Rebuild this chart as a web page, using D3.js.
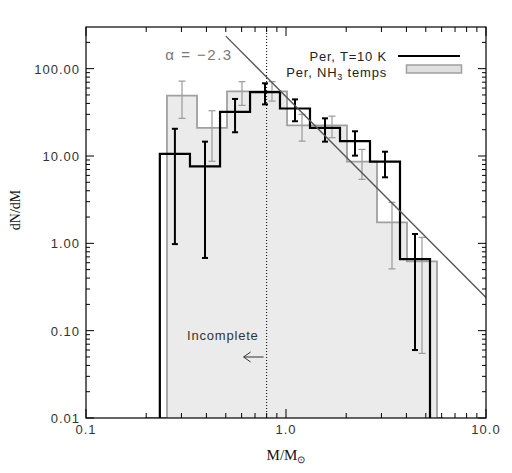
<!DOCTYPE html>
<html>
<head>
<meta charset="utf-8">
<script src="https://cdn.jsdelivr.net/npm/d3@7"></script>
<style>
  html, body { margin: 0; padding: 0; background: #fff; }
  svg { display: block; }
  .tick-label { font-family: "Liberation Sans", Arial, sans-serif; font-size: 13px; fill: #333; letter-spacing: 1px; }
</style>
</head>
<body>
<svg id="chart" width="512" height="473"></svg>
<script>
// ---------------- data ----------------
// Black histogram: Per, T = 10 K
const blackEdges = [0.234, 0.331, 0.468, 0.661, 0.933, 1.318, 1.862, 2.630, 3.715, 5.248];
const blackValues = [10.6, 7.6, 32, 54, 35, 21, 14.8, 8.6, 0.66];
const blackErrHi  = [20.5, 14.6, 45, 68, 44.5, 27, 19.2, 11.2, 1.28];
const blackErrLo  = [0.98, 0.68, 18.7, 39, 25, 14.6, 10.1, 5.7, 0.060];

// Grey histogram: Per, NH3 temps
const grayEdges = [0.254, 0.359, 0.507, 0.716, 1.012, 1.429, 2.018, 2.851, 4.027, 5.689];
const grayValues = [49, 21, 55, 55, 22.4, 22.4, 8.6, 1.74, 0.62];
const grayErrHi  = [72, 33, 71, 71, 30, 28.6, 11.9, 2.95, 1.17];
const grayErrLo  = [27, 8.7, 38, 42.5, 14.8, 16.2, 5.4, 0.51, 0.055];
const grayOuter = [0.197, 6.1];   // empty bins drawn along the floor

// power law and completeness limit
const alpha = -2.3;
const powerNorm = 47.9;          // dN/dM at M = 1
const powerRange = [0.5, 10];
const completeness = 0.8;

const xTicks = [0.1, 1, 10];
const yTicks = [0.01, 0.1, 1, 10, 100];
const xDomain = [0.1, 10];
const yDomain = [0.01, 300];

// ---------------- layout ----------------
const svg = d3.select("#chart");
const L = 86, R = 486, T = 27, B = 418;
const x = d3.scaleLog().domain(xDomain).range([L, R]);
const y = d3.scaleLog().domain(yDomain).range([B, T]);

svg.append("defs").append("clipPath").attr("id", "clip")
  .append("rect").attr("x", L).attr("y", T).attr("width", R - L).attr("height", B - T);

const plot = svg.append("g").attr("clip-path", "url(#clip)");

function stepPoints(edges, values, floor) {
  const pts = [[edges[0], floor]];
  values.forEach((v, i) => { pts.push([edges[i], v]); pts.push([edges[i + 1], v]); });
  pts.push([edges[edges.length - 1], floor]);
  return pts;
}
const line = d3.line().x(d => x(d[0])).y(d => y(Math.max(d[1], yDomain[0])));
const floor = yDomain[0];

// grey filled histogram
const gPts = stepPoints(grayEdges, grayValues, floor);
plot.append("path").attr("d", line(gPts) + "Z").attr("fill", "#ebebeb").attr("stroke", "none");

// grey error bars
function errorBars(edges, hi, lo, color, width, cap) {
  const g = plot.append("g").attr("stroke", color).attr("stroke-width", width).attr("fill", "none");
  hi.forEach((h, i) => {
    const c = Math.sqrt(edges[i] * edges[i + 1]);
    const cx = x(c);
    g.append("line").attr("x1", cx).attr("x2", cx).attr("y1", y(h)).attr("y2", y(lo[i]));
    g.append("line").attr("x1", cx - cap).attr("x2", cx + cap).attr("y1", y(h)).attr("y2", y(h));
    g.append("line").attr("x1", cx - cap).attr("x2", cx + cap).attr("y1", y(lo[i])).attr("y2", y(lo[i]));
  });
}
errorBars(grayEdges, grayErrHi, grayErrLo, "#9a9a9a", 1.2, 3.5);

// grey outline (including empty outer bins)
const gOutline = [[grayOuter[0], floor]].concat(gPts).concat([[grayOuter[1], floor]]);
plot.append("path").attr("d", line(gOutline)).attr("fill", "none")
  .attr("stroke", "#a0a0a0").attr("stroke-width", 1.8);

// black histogram
plot.append("path").attr("d", line(stepPoints(blackEdges, blackValues, floor)))
  .attr("fill", "none").attr("stroke", "#000").attr("stroke-width", 2.2);
errorBars(blackEdges, blackErrHi, blackErrLo, "#000", 2, 3);

// completeness dotted line
plot.append("line").attr("x1", x(completeness)).attr("x2", x(completeness))
  .attr("y1", T).attr("y2", B).attr("stroke", "#000").attr("stroke-width", 1)
  .attr("stroke-dasharray", "1,2");

// power law
const plPts = powerRange.map(m => [m, powerNorm * Math.pow(m, alpha)]);
plot.append("path").attr("d", d3.line().x(d => x(d[0])).y(d => y(d[1]))(plPts))
  .attr("fill", "none").attr("stroke", "#555").attr("stroke-width", 1.4);

// ---------------- axes ----------------
function minorTicks(domain) {
  const out = [];
  for (let e = Math.floor(Math.log10(domain[0])); e <= Math.ceil(Math.log10(domain[1])); e++) {
    for (let k = 2; k <= 9; k++) {
      const v = k * Math.pow(10, e);
      if (v > domain[0] && v < domain[1]) out.push(v);
    }
  }
  return out;
}
const axG = svg.append("g").attr("stroke", "#000").attr("stroke-width", 1);
svg.append("rect").attr("x", L).attr("y", T).attr("width", R - L).attr("height", B - T)
  .attr("fill", "none").attr("stroke", "#000").attr("stroke-width", 1.2);

function xTick(v, len) {
  axG.append("line").attr("x1", x(v)).attr("x2", x(v)).attr("y1", B).attr("y2", B - len);
  axG.append("line").attr("x1", x(v)).attr("x2", x(v)).attr("y1", T).attr("y2", T + len);
}
function yTick(v, len) {
  axG.append("line").attr("y1", y(v)).attr("y2", y(v)).attr("x1", L).attr("x2", L + len);
  axG.append("line").attr("y1", y(v)).attr("y2", y(v)).attr("x1", R).attr("x2", R - len);
}
xTicks.forEach(v => xTick(v, 9));
minorTicks(xDomain).forEach(v => xTick(v, 5));
yTicks.forEach(v => yTick(v, 8));
minorTicks(yDomain).forEach(v => yTick(v, 4));

const fx = d3.format(".1f"), fy = d3.format(".2f");
svg.append("g").selectAll("text").data(xTicks).join("text")
  .attr("class", "tick-label").attr("x", d => x(d)).attr("y", B + 16)
  .attr("text-anchor", "middle").text(d => fx(d));
svg.append("g").selectAll("text").data(yTicks).join("text")
  .attr("class", "tick-label").attr("x", L - 6).attr("y", d => y(d) + 5)
  .attr("text-anchor", "end").text(d => fy(d));

// axis titles
const xt = svg.append("text").attr("x", (L + R) / 2).attr("y", 460)
  .attr("text-anchor", "middle").attr("font-family", "Liberation Serif, Times New Roman, serif")
  .attr("font-size", 15).attr("fill", "#111");
xt.append("tspan").text("M/M");
xt.append("tspan").attr("font-size", 10).attr("dy", 3).text("⊙");

svg.append("text").attr("transform", "translate(20,210) rotate(-90)")
  .attr("text-anchor", "middle").attr("font-family", "Liberation Serif, Times New Roman, serif")
  .attr("font-size", 14).attr("fill", "#111").text("dN/dM");

// annotations
svg.append("text").attr("x", 199).attr("y", 60).attr("text-anchor", "middle")
  .attr("font-family", "Liberation Sans, Arial, sans-serif").attr("font-size", 15)
  .attr("fill", "#777").attr("letter-spacing", 1.5)
  .text("α = −2.3");

svg.append("text").attr("x", x(completeness) - 8).attr("y", 340).attr("text-anchor", "end")
  .attr("font-family", "Liberation Sans, Arial, sans-serif").attr("font-size", 13)
  .attr("fill", "#333").attr("letter-spacing", 0.8).text("Incomplete");

const ax0 = x(completeness) - 3, ax1 = x(completeness) - 23, ay = 357;
svg.append("path").attr("d", `M${ax0},${ay}H${ax1}M${ax1 + 7},${ay - 5}L${ax1},${ay}L${ax1 + 7},${ay + 5}`)
  .attr("fill", "none").attr("stroke", "#333").attr("stroke-width", 1);

// legend
const leg = svg.append("g").attr("font-family", "Liberation Sans, Arial, sans-serif")
  .attr("font-size", 13).attr("fill", "#222");
leg.append("text").attr("x", 387).attr("y", 61).attr("text-anchor", "end")
  .attr("letter-spacing", 0.8).text("Per, T=10 K");
leg.append("line").attr("x1", 398).attr("x2", 460).attr("y1", 56).attr("y2", 56)
  .attr("stroke", "#000").attr("stroke-width", 2.2);
const t2 = leg.append("text").attr("x", 387).attr("y", 77).attr("text-anchor", "end")
  .attr("letter-spacing", 0.8);
t2.append("tspan").text("Per, NH");
t2.append("tspan").attr("font-size", 9).attr("dy", 3).text("3");
t2.append("tspan").attr("dy", -3).text(" temps");
leg.append("rect").attr("x", 406.5).attr("y", 65).attr("width", 55).attr("height", 8)
  .attr("fill", "#e0e0e0").attr("stroke", "#a0a0a0").attr("stroke-width", 1.5);
</script>
</body>
</html>
